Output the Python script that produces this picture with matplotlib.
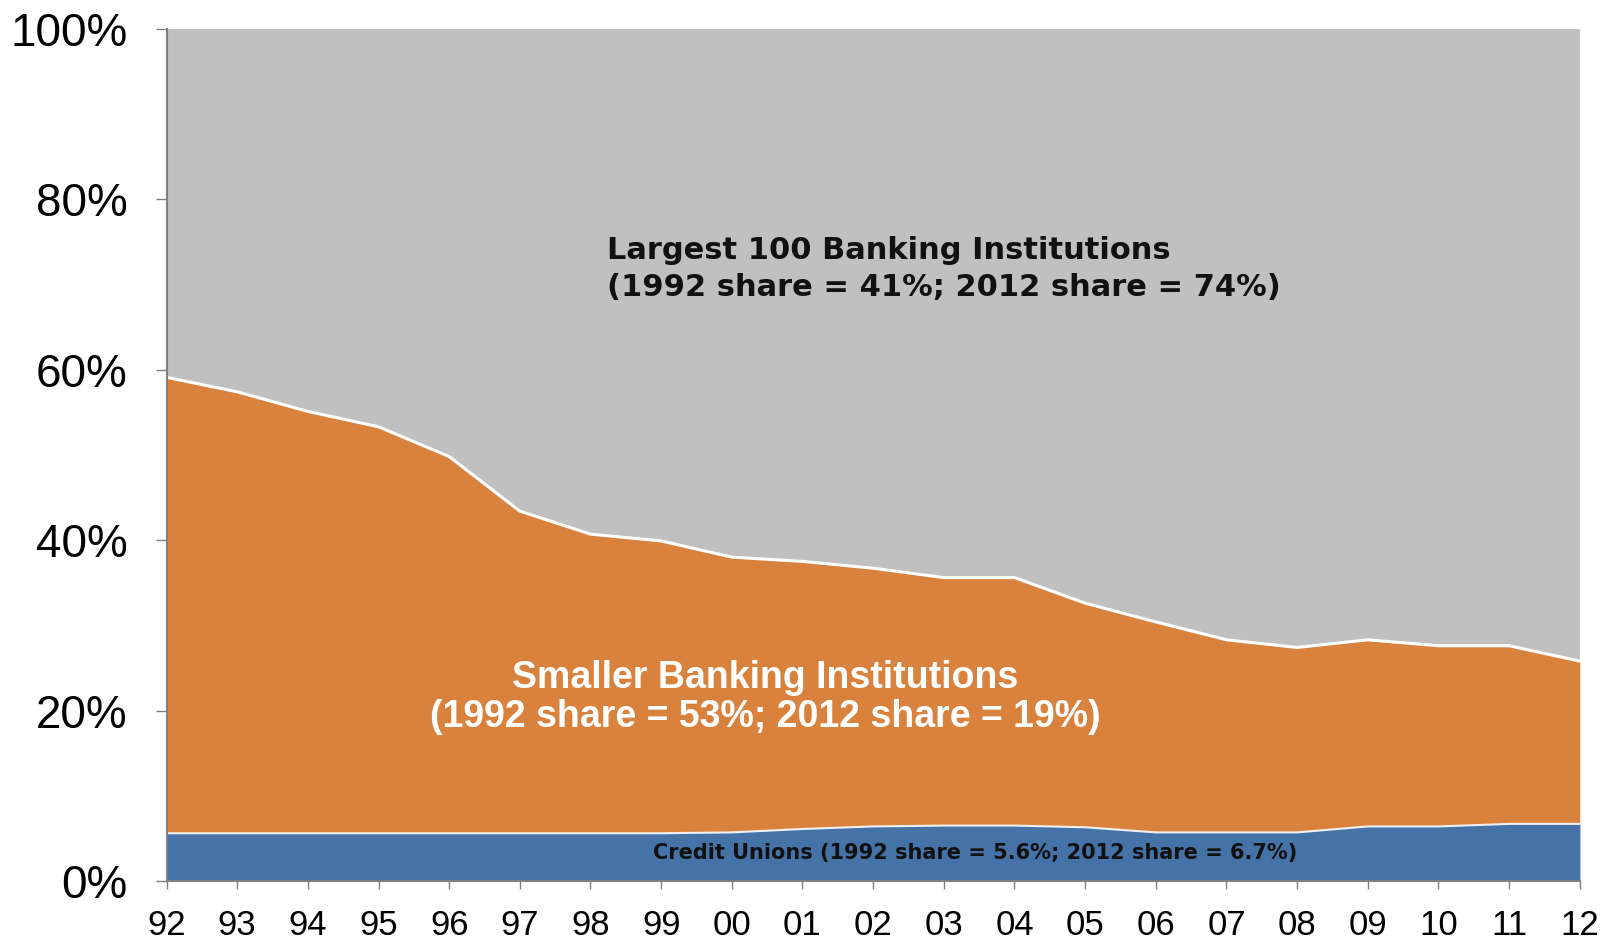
import matplotlib
matplotlib.use("Agg")
import matplotlib.pyplot as plt
import numpy as np

years = ["92", "93", "94", "95", "96", "97", "98", "99", "00", "01", "02",
         "03", "04", "05", "06", "07", "08", "09", "10", "11", "12"]
credit_unions = [5.6, 5.6, 5.6, 5.6, 5.6, 5.6, 5.6, 5.6, 5.7, 6.1, 6.4,
                 6.5, 6.5, 6.3, 5.7, 5.7, 5.7, 6.4, 6.4, 6.7, 6.7]
smaller_banks = [53.5, 51.8, 49.5, 47.7, 44.2, 37.8, 35.1, 34.3, 32.3, 31.4, 30.3,
                 29.1, 29.1, 26.3, 24.7, 22.6, 21.7, 21.9, 21.2, 20.9, 19.1]
y_ticks = [0, 20, 40, 60, 80, 100]
y_labels = ["0%", "20%", "40%", "60%", "80%", "100%"]

x = np.arange(len(years))
cu = np.array(credit_unions)
mid = cu + np.array(smaller_banks)

fig = plt.figure(figsize=(16.12, 9.41), dpi=100)
ax = fig.add_axes([0.1033, 0.0638, 0.8767, 0.9056])

ax.fill_between(x, 0, 100, color="#C0C0C0", lw=0)
ax.fill_between(x, 0, mid, color="#D9823D", lw=0)
ax.fill_between(x, 0, cu, color="#4572A7", lw=0)
ax.plot(x, mid, color="white", lw=2.2)
ax.plot(x, cu, color="#f0f0f0", lw=1.5)

ax.set_xlim(0, len(years) - 1)
ax.set_ylim(0, 100)
ax.set_xticks(x)
ax.set_xticklabels(years, fontsize=25, family="Liberation Sans")
ax.set_yticks(y_ticks)
ax.set_yticklabels(y_labels, fontsize=33, family="Liberation Sans")
ax.tick_params(axis="y", length=8, width=1, color="#808080", pad=20)
ax.tick_params(axis="x", length=6, width=1, color="#808080", pad=14)
for s in ["top", "right"]:
    ax.spines[s].set_visible(False)
for s in ["left", "bottom"]:
    ax.spines[s].set_color("#808080")
    ax.spines[s].set_linewidth(1.5)

ax.text(6.23, 71.8, "Largest 100 Banking Institutions\n(1992 share = 41%; 2012 share = 74%)",
        ha="left", va="center", fontsize=22, fontweight="bold", color="#111111",
        family="DejaVu Sans", linespacing=1.35)
ax.text(8.47, 21.5, "Smaller Banking Institutions\n(1992 share = 53%; 2012 share = 19%)",
        ha="center", va="center", fontsize=27, fontweight="bold", color="white",
        family="Liberation Sans", linespacing=1.1)
ax.text(11.44, 3.3, "Credit Unions (1992 share = 5.6%; 2012 share = 6.7%)",
        ha="center", va="center", fontsize=15, fontweight="bold", color="#111111",
        family="DejaVu Sans")

fig.savefig("out.png", dpi=100)
